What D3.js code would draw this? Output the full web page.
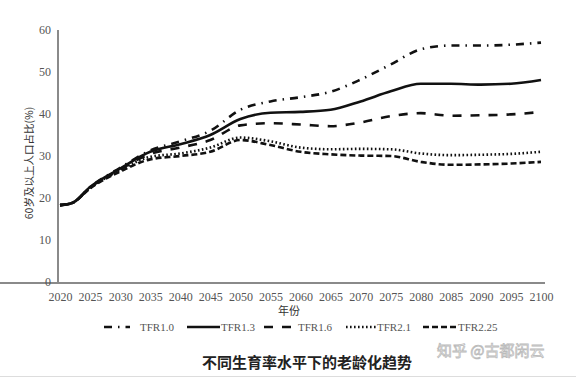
<!DOCTYPE html>
<html><head><meta charset="utf-8">
<script src="https://cdn.jsdelivr.net/npm/d3@7"></script>
<style>body{margin:0;background:#fff}svg{display:block}</style>
</head><body>
<svg id="c" width="576" height="378"></svg>
<script>
const years = [2020,2022,2025,2030,2035,2040,2045,2050,2055,2060,2065,2070,2075,2080,2085,2090,2095,2100];
const tfr10  = [18.3,18.8,22.6,27.2,31.3,33.5,36.0,41.0,43.0,44.0,45.3,48.2,51.8,55.4,56.3,56.3,56.5,57.0];
const tfr13  = [18.3,18.8,22.6,27.0,31.0,32.8,35.0,38.8,40.3,40.5,41.0,43.0,45.4,47.2,47.2,47.0,47.2,48.1];
const tfr16  = [18.3,18.8,22.5,26.8,30.5,32.0,33.8,37.3,37.8,37.5,37.1,38.0,39.5,40.2,39.6,39.7,39.9,40.5];
const tfr21  = [18.3,18.8,22.4,26.6,29.8,30.6,32.0,34.4,33.5,32.0,31.6,31.7,31.6,30.6,30.2,30.3,30.5,31.0];
const tfr225 = [18.3,18.8,22.3,26.3,29.2,30.0,31.0,33.8,32.6,31.0,30.4,30.1,30.0,28.6,27.9,28.0,28.2,28.6];
const seriesNames = ["TFR1.0","TFR1.3","TFR1.6","TFR2.1","TFR2.25"];
const xTicks = [2020,2025,2030,2035,2040,2045,2050,2055,2060,2065,2070,2075,2080,2085,2090,2095,2100];
const yTicks = [0,10,20,30,40,50,60];

const seriesVals = [tfr10,tfr13,tfr16,tfr21,tfr225];
const dashes = ["8,6,1.5,6", null, "9,9", "1.6,2.4", "6,3"];

const svg = d3.select("#c");
const x = d3.scaleLinear().domain([2020,2100]).range([60,541]);
const y = d3.scaleLinear().domain([0,60]).range([282,30]);
const serif = "'Liberation Serif','DejaVu Serif',serif";
const cjk = "'Noto Sans CJK SC','Noto Sans',sans-serif";

// axes
const xAxis = svg.append("g").attr("transform","translate(0,283)")
  .call(d3.axisBottom(x).tickValues(xTicks).tickFormat(d3.format("d")).tickSize(0).tickPadding(9));
xAxis.select(".domain").attr("stroke","#8a8a8a").attr("stroke-width",2).attr("d","M-2,0H545");
xAxis.selectAll("text").attr("fill","#555").style("font-family",serif).style("font-size","12px");

const yAxis = svg.append("g").attr("transform","translate(58,0)")
  .call(d3.axisLeft(y).tickValues(yTicks).tickSize(0).tickPadding(7));
yAxis.select(".domain").attr("stroke","#8a8a8a").attr("stroke-width",2).attr("d","M0,30V283");
yAxis.selectAll("text").attr("fill","#555").style("font-family",serif).style("font-size","12px");

// lines
const line = d3.line().curve(d3.curveMonotoneX);
seriesVals.forEach((vals,i)=>{
  const pts = years.map((yr,j)=>[x(yr), y(vals[j])]);
  svg.append("path").attr("d", line(pts)).attr("fill","none")
    .attr("stroke","#111").attr("stroke-width",2.6)
    .attr("stroke-dasharray", dashes[i]);
});

// axis titles
svg.append("text").attr("transform","translate(33,163) rotate(-90)").attr("text-anchor","middle")
  .style("font-family",cjk).style("font-size","10.5px").attr("fill","#333").text("60岁及以上人口占比(%)");
svg.append("text").attr("x",289).attr("y",315).attr("text-anchor","middle")
  .style("font-family",cjk).style("font-size","11px").attr("fill","#333").text("年份");

// legend
const legend = [
  {x1:104, x2:130, tx:140},
  {x1:187, x2:220, tx:221},
  {x1:264, x2:297, tx:298},
  {x1:346, x2:377, tx:377},
  {x1:423, x2:457, tx:458}
];
legend.forEach((l,i)=>{
  svg.append("line").attr("x1",l.x1).attr("x2",l.x2).attr("y1",327).attr("y2",327)
    .attr("stroke","#111").attr("stroke-width",2.6).attr("stroke-dasharray", dashes[i]);
  svg.append("text").attr("x",l.tx).attr("y",331).style("font-family",serif)
    .style("font-size","11px").attr("fill","#555").text(seriesNames[i]);
});

// title
svg.append("text").attr("x",307).attr("y",368).attr("text-anchor","middle")
  .style("font-family",cjk).style("font-size","15px").style("font-weight","bold").attr("fill","#222")
  .text("不同生育率水平下的老龄化趋势");
// watermark
svg.append("text").attr("x",437).attr("y",356).style("font-family",cjk).style("font-size","15px")
  .attr("fill","#fff").attr("stroke","#bbb").attr("stroke-width",0.8).text("知乎 @古都闲云");
svg.append("line").attr("x1",0).attr("x2",576).attr("y1",376.5).attr("y2",376.5).attr("stroke","#ddd");
</script>
</body></html>
